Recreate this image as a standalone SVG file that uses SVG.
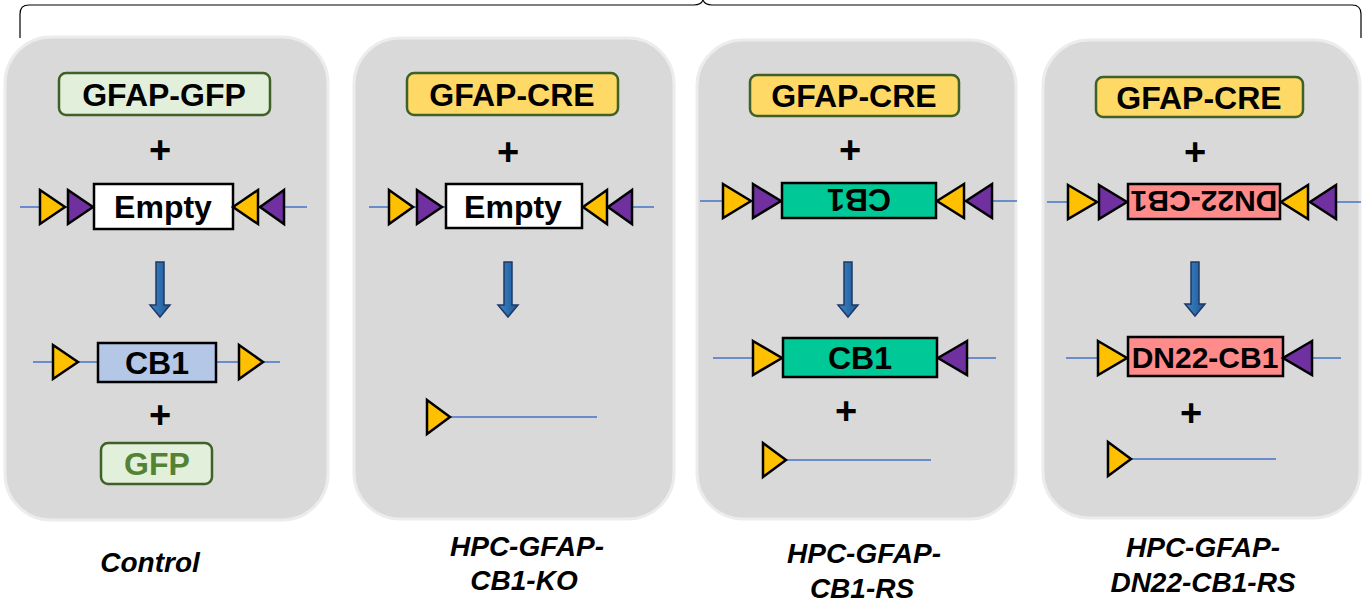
<svg xmlns="http://www.w3.org/2000/svg" width="1371" height="607" viewBox="0 0 1371 607">
<style>
.panel{fill:#d9d9d9;stroke:#ececec;stroke-width:3}
.dna{stroke:#4472c4;stroke-width:1.5;fill:none}
.y{fill:#ffc000;stroke:#000;stroke-width:2.5;stroke-linejoin:miter}
.p{fill:#7030a0;stroke:#000;stroke-width:2.5;stroke-linejoin:miter}
.box{stroke:#000;stroke-width:2.5}
.gbox{stroke:#3f6127;stroke-width:2.5}
.t{font-family:"Liberation Sans",Arial,sans-serif;font-weight:bold;font-size:32px;text-anchor:middle;fill:#000}
.pl{font-family:"Liberation Sans",Arial,sans-serif;font-weight:bold;font-size:38px;text-anchor:middle;fill:#000}
.lab{font-family:"Liberation Sans",Arial,sans-serif;font-weight:bold;font-style:italic;font-size:28px;text-anchor:middle;fill:#000}
.arr{fill:url(#ag);stroke:#1f3864;stroke-width:1.5}
</style>
<defs>
<linearGradient id="ag" x1="0" y1="0" x2="1" y2="0">
<stop offset="0" stop-color="#3f86c8"/><stop offset="1" stop-color="#1c5696"/>
</linearGradient>
</defs>

<g id="brace">
<path d="M20,38 L20,14 Q20,5 29,5 L694,5 Q701,5 703,0 Q705,5 712,5 L1352,5 Q1361,5 1361,14 L1361,38" fill="none" stroke="#000" stroke-width="1.2"/>
</g>

<g id="panel-control">
<rect class="panel" x="5" y="37" width="323" height="483" rx="46"/>
<rect class="gbox" x="59" y="73" width="211" height="42" rx="7" fill="#e2efda"/>
<text class="t" x="164" y="106">GFAP-GFP</text>
<text class="pl" x="160" y="163">+</text>
<line class="dna" x1="20" y1="207" x2="307" y2="207"/>
<path class="y" d="M40,190 L65,207 L40,224 Z"/>
<path class="p" d="M68,190 L93,207 L68,224 Z"/>
<rect class="box" x="94" y="184" width="139" height="45" fill="#fff"/>
<text class="t" x="163" y="218">Empty</text>
<path class="y" d="M258,190 L233,207 L258,224 Z"/>
<path class="p" d="M284,190 L260,207 L284,224 Z"/>
<path class="arr" d="M156,262 L164,262 L164,305 L170,305 L160,317 L150,305 L156,305 Z"/>
<line class="dna" x1="33" y1="362" x2="280" y2="362"/>
<path class="y" d="M53,345 L78,362 L53,379 Z"/>
<rect class="box" x="98" y="343" width="118" height="39" fill="#b4c7e7"/>
<text class="t" x="157" y="374">CB1</text>
<path class="y" d="M239,345 L263,362 L239,379 Z"/>
<text class="pl" x="160" y="428">+</text>
<rect class="gbox" x="101" y="443" width="111" height="41" rx="7" fill="#e2efda"/>
<text class="t" x="157" y="475" style="fill:#548235">GFP</text>
</g>

<g id="panel-ko">
<rect class="panel" x="354" y="38" width="320" height="481" rx="46"/>
<rect class="gbox" x="407" y="73" width="211" height="42" rx="7" fill="#ffd966"/>
<text class="t" x="512" y="106">GFAP-CRE</text>
<text class="pl" x="508" y="165">+</text>
<line class="dna" x1="369" y1="207" x2="654" y2="207"/>
<path class="y" d="M389,190 L413,207 L389,224 Z"/>
<path class="p" d="M417,190 L442,207 L417,224 Z"/>
<rect class="box" x="446" y="184" width="136" height="44" fill="#fff"/>
<text class="t" x="513" y="218">Empty</text>
<path class="y" d="M607,190 L583,207 L607,224 Z"/>
<path class="p" d="M632,190 L608,207 L632,224 Z"/>
<path class="arr" d="M504,262 L512,262 L512,305 L518,305 L508,317 L498,305 L504,305 Z"/>
<line class="dna" x1="450" y1="417" x2="597" y2="417"/>
<path class="y" d="M427,400 L450,417 L427,434 Z"/>
</g>

<g id="panel-rs">
<rect class="panel" x="697" y="40" width="319" height="479" rx="46"/>
<rect class="gbox" x="750" y="75" width="209" height="41" rx="7" fill="#ffd966"/>
<text class="t" x="854" y="107">GFAP-CRE</text>
<text class="pl" x="850" y="163">+</text>
<line class="dna" x1="700" y1="201" x2="1017" y2="201"/>
<path class="y" d="M723,184 L751,201 L723,218 Z"/>
<path class="p" d="M753,184 L781,201 L753,218 Z"/>
<rect class="box" x="782" y="183" width="154" height="35" fill="#00c896"/>
<text class="t" x="859" y="212" transform="rotate(180 859 200.5)">CB1</text>
<path class="y" d="M964,184 L937,201 L964,218 Z"/>
<path class="p" d="M992,184 L966,201 L992,218 Z"/>
<path class="arr" d="M844,262 L852,262 L852,305 L858,305 L848,317 L838,305 L844,305 Z"/>
<line class="dna" x1="713" y1="358" x2="996" y2="358"/>
<path class="y" d="M753,341 L782,358 L753,375 Z"/>
<rect class="box" x="783" y="338" width="154" height="39" fill="#00c896"/>
<text class="t" x="860" y="369">CB1</text>
<path class="p" d="M967,341 L938,358 L967,375 Z"/>
<text class="pl" x="846" y="424">+</text>
<line class="dna" x1="786" y1="460" x2="931" y2="460"/>
<path class="y" d="M763,443 L786,460 L763,477 Z"/>
</g>

<g id="panel-dn22">
<rect class="panel" x="1043" y="40" width="317" height="478" rx="46"/>
<rect class="gbox" x="1096" y="77" width="207" height="40" rx="7" fill="#ffd966"/>
<text class="t" x="1199" y="109">GFAP-CRE</text>
<text class="pl" x="1195" y="165">+</text>
<line class="dna" x1="1047" y1="202" x2="1361" y2="202"/>
<path class="y" d="M1068,185 L1097,202 L1068,219 Z"/>
<path class="p" d="M1099,185 L1127,202 L1099,219 Z"/>
<rect class="box" x="1128" y="184" width="152" height="35" fill="#ff8b8b"/>
<text class="t" x="1204" y="212" transform="rotate(180 1204 201.5)" style="font-size:30px">DN22-CB1</text>
<path class="y" d="M1308,185 L1281,202 L1308,219 Z"/>
<path class="p" d="M1336,185 L1310,202 L1336,219 Z"/>
<path class="arr" d="M1191,262 L1199,262 L1199,304 L1205,304 L1195,316 L1185,304 L1191,304 Z"/>
<line class="dna" x1="1066" y1="358" x2="1341" y2="358"/>
<path class="y" d="M1098,341 L1127,358 L1098,375 Z"/>
<rect class="box" x="1128" y="337" width="155" height="39" fill="#ff8b8b"/>
<text class="t" x="1205" y="368" style="font-size:30px">DN22-CB1</text>
<path class="p" d="M1312,341 L1283,358 L1312,375 Z"/>
<text class="pl" x="1191" y="426">+</text>
<line class="dna" x1="1131" y1="459" x2="1276" y2="459"/>
<path class="y" d="M1108,442 L1131,459 L1108,476 Z"/>
</g>

<g id="labels">
<text class="lab" x="150" y="572">Control</text>
<text class="lab" x="527" y="556">HPC-GFAP-</text>
<text class="lab" x="524" y="590">CB1-KO</text>
<text class="lab" x="864" y="563">HPC-GFAP-</text>
<text class="lab" x="862" y="598">CB1-RS</text>
<text class="lab" x="1203" y="557">HPC-GFAP-</text>
<text class="lab" x="1203" y="592">DN22-CB1-RS</text>
</g>
</svg>
